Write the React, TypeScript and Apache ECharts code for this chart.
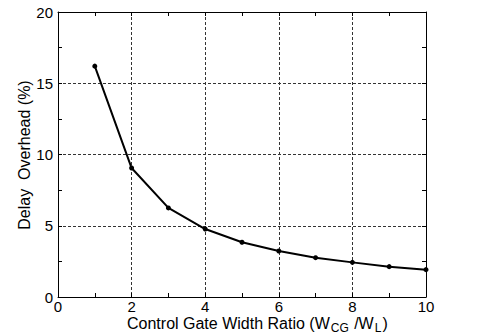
import React, { useEffect, useRef } from "react";
import * as echarts from "echarts";

const ratios = [1, 2, 3, 4, 5, 6, 7, 8, 9, 10];
const overhead = [16.2, 9.05, 6.25, 4.77, 3.84, 3.23, 2.76, 2.43, 2.13, 1.92];

const FONT = "Liberation Sans, Arial, Helvetica, sans-serif";

export default function App() {
  const ref = useRef<HTMLDivElement>(null);
  useEffect(() => {
    if (!ref.current) return;
    const chart = echarts.init(ref.current, undefined, { renderer: "svg" });
    const axisCommon = {
      axisLine: { show: true, onZero: false, lineStyle: { color: "#000", width: 1 } },
      axisTick: { show: true, inside: true, length: 4, lineStyle: { color: "#000" } },
      minorTick: { show: true, splitNumber: 2, length: 4, lineStyle: { color: "#000" } },
    };
    chart.setOption({
      animation: false,
      backgroundColor: "#fff",
      grid: { left: 58, right: 51, top: 12, bottom: 38 },
      xAxis: [
        {
          type: "value",
          min: 0,
          max: 10,
          interval: 2,
          ...axisCommon,
          axisLabel: { color: "#000", fontSize: 15, fontFamily: FONT, margin: 2, lineHeight: 15 },
          splitLine: { show: true, lineStyle: { color: "#333", type: [3, 2], width: 1 } },
        },
        {
          type: "value",
          position: "top",
          min: 0,
          max: 10,
          interval: 2,
          ...axisCommon,
          axisLabel: { show: false },
          splitLine: { show: false },
        },
      ],
      yAxis: [
        {
          type: "value",
          min: 0,
          max: 20,
          interval: 5,
          ...axisCommon,
          axisLabel: { color: "#000", fontSize: 15, fontFamily: FONT, margin: 5 },
          splitLine: { show: true, lineStyle: { color: "#333", type: [3, 2], width: 1 } },
        },
        {
          type: "value",
          position: "right",
          min: 0,
          max: 20,
          interval: 5,
          ...axisCommon,
          axisLabel: { show: false },
          splitLine: { show: false },
        },
      ],
      graphic: [
        {
          type: "text",
          left: 127,
          top: 315,
          style: {
            text: "Control Gate Width Ratio (W{s|CG} /W{s|L})",
            fontSize: 16,
            fontFamily: FONT,
            fill: "#000",
            rich: {
              s: { fontSize: 12, fontFamily: FONT, fill: "#000", padding: [9, 1, 0, 1] },
            },
          },
        },
        {
          type: "text",
          x: 24,
          y: 155,
          rotation: Math.PI / 2,
          style: {
            text: "Delay  Overhead (%)",
            fontSize: 16,
            fontFamily: FONT,
            fill: "#000",
            align: "center",
            verticalAlign: "middle",
          },
        },
      ],
      series: [
        {
          type: "line",
          data: ratios.map((r, i) => [r, overhead[i]]),
          symbol: "circle",
          symbolSize: 5,
          lineStyle: { color: "#000", width: 2 },
          itemStyle: { color: "#000" },
        },
      ],
    });
    return () => chart.dispose();
  }, []);
  return <div ref={ref} style={{ width: 477, height: 335, position: "absolute", left: 0, top: 0 }} />;
}
